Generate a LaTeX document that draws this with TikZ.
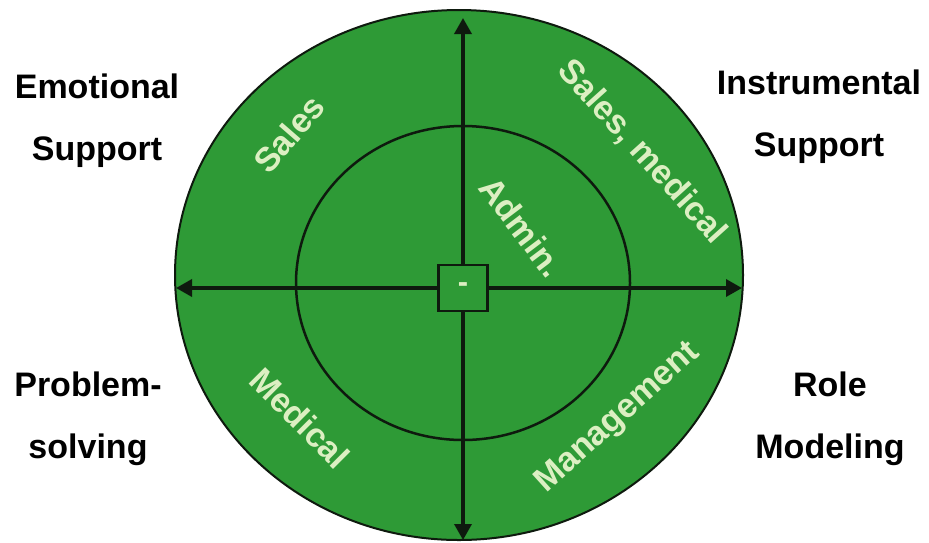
\documentclass[tikz,border=0pt]{standalone}
\usepackage{fontspec}
\setmainfont{Liberation Sans}
\usepackage{xcolor}
\definecolor{cDisc}{HTML}{2E9A36}
\definecolor{cInk}{HTML}{0E1A0E}
\definecolor{cPale}{HTML}{DCEFC2}
\usetikzlibrary{arrows.meta}

\begin{document}
\begin{tikzpicture}[x=1pt, y=-1pt,
    side/.style={align=center, font=\fontsize{34}{62}\selectfont\bfseries,
                 text=black, inner sep=0pt},
    sector/.style={font=\fontsize{34}{38}\selectfont\bfseries,
                   text=cPale, inner sep=0pt},
    hubbox/.style={draw=cInk, line width=2.5pt, fill=cDisc,
                   minimum width=49pt, minimum height=46pt, inner sep=0pt,
                   font=\fontsize{31}{36}\selectfont\bfseries, text=cPale},
    axis/.style={-{Triangle[length=16pt, width=17pt]}, line width=3.5pt, color=cInk}
]
\useasboundingbox[fill=white] (0,0) rectangle (929,542);

% disc and inner ring
\filldraw[fill=cDisc, draw=cInk, line width=2pt] (459,275) ellipse [x radius=284, y radius=265];
\draw[cInk, line width=2.5pt] (463,283) ellipse [x radius=167, y radius=157];

% centre box and axes
\node[hubbox] (hub) at (463,288) {-};
\coordinate (tipN) at (463,18);
\coordinate (tipS) at (463,540);
\coordinate (tipW) at (176,288);
\coordinate (tipE) at (742,288);
\draw[axis] (hub.north) -- (tipN);
\draw[axis] (hub.south) -- (tipS);
\draw[axis] (hub.west) -- (tipW);
\draw[axis] (hub.east) -- (tipE);

% quadrant titles
\node[side] (emo) at (97,121) {Emotional\\Support};
\node[side] (ins) at (819,117) {Instrumental\\Support};
\node[side] (prob) at (88,419) {Problem-\\solving};
\node[side] (role) at (830,419) {Role\\Modeling};

% sector labels
\node[sector, rotate=49] (sales) at (289,134) {Sales};
\node[sector, rotate=-48] (salesmed) at (642,152) {Sales, medical};
\node[sector, rotate=-53] (admin) at (522,227) {Admin.};
\node[sector, rotate=-45] (medical) at (300,418) {Medical};
\node[sector, rotate=42] (mgmt) at (618,418) {Management};
\end{tikzpicture}
\end{document}
